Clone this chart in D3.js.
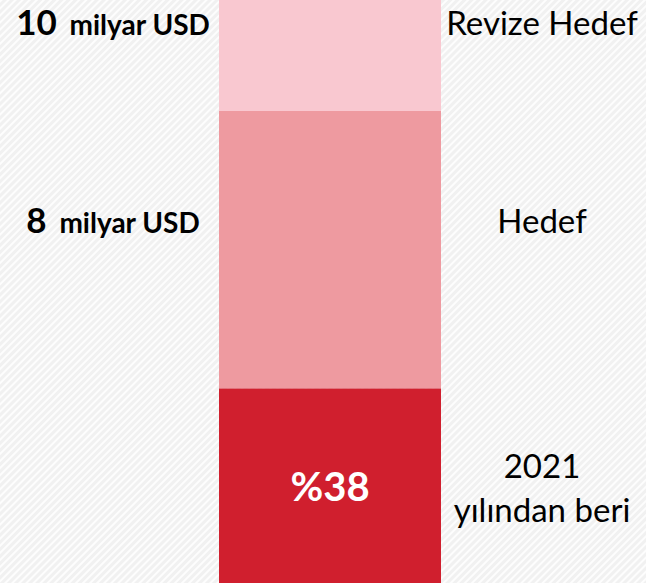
<!DOCTYPE html>
<html>
<head>
<meta charset="utf-8">
<script src="https://cdn.jsdelivr.net/npm/d3@7"></script>
<style>
  html, body { margin: 0; padding: 0; background: #fff; }
  svg { display: block; }
</style>
</head>
<body>
<svg id="fig" width="646" height="583"></svg>
<script>
// stacked segments, bottom to top (milyar USD)
const segmentNames = ['2021 yılından beri', 'Hedef', 'Revize Hedef'];
const segmentValues = [3.3, 4.7, 2];
const segmentColors = ['#d01f2e', '#ee9aa0', '#f9c8d0'];
const barShare = '%38';

// left-hand totals
const totalValues = [10, 8];
const totalUnit = 'milyar USD';

// right-hand labels (lines)
const rightLabels = [['Revize Hedef'], ['Hedef'], ['2021', 'yılından beri']];

const width = 646, height = 583;
const svg = d3.select('#fig');

// diagonal background
const defs = svg.append('defs');
const pat = defs.append('pattern')
    .attr('id', 'hatch')
    .attr('patternUnits', 'userSpaceOnUse')
    .attr('width', 5).attr('height', 5)
    .attr('patternTransform', 'rotate(45)');
pat.append('rect').attr('width', 5).attr('height', 5).attr('fill', '#f1f1f1');
pat.append('line')
    .attr('x1', 1).attr('y1', 0).attr('x2', 1).attr('y2', 5)
    .attr('stroke', '#fdfdfd').attr('stroke-width', 2);
svg.append('rect').attr('width', width).attr('height', height).attr('fill', 'url(#hatch)');

const x = d3.scaleBand().domain(['bar']).range([219, 441]).padding(0);
const y = d3.scaleLinear().domain([0, 8]).range([583, 111]);

let acc = 0;
const stacked = segmentValues.map((v, i) => {
    const d = { name: segmentNames[i], y0: acc, y1: acc + v, color: segmentColors[i] };
    acc += v;
    return d;
});

svg.append('g').selectAll('rect').data(stacked).join('rect')
    .attr('x', x('bar'))
    .attr('width', x.bandwidth())
    .attr('y', d => y(d.y1))
    .attr('height', d => y(d.y0) - y(d.y1))
    .attr('fill', d => d.color);

// share label in bottom segment
svg.append('text')
    .attr('x', x('bar') + x.bandwidth() / 2)
    .attr('y', 501)
    .attr('text-anchor', 'middle')
    .style('font-family', 'Lato, sans-serif')
    .style('font-weight', 'bold')
    .style('font-size', '40px')
    .attr('fill', '#fff')
    .text(barShare);

// left totals
const leftY = [35, 233];
const leftG = svg.append('g');
totalValues.forEach((v, i) => {
    const t = leftG.append('text')
        .attr('x', 113)
        .attr('y', leftY[i])
        .attr('text-anchor', 'middle')
        .style('font-family', 'Lato, sans-serif')
        .style('font-weight', 'bold')
        .attr('fill', '#000');
    t.append('tspan').style('font-size', '35px').text(v);
    t.append('tspan').attr('dx', 6).style('font-size', '28px').text(' ' + totalUnit);
});

// right labels
const rightY = [[35], [233], [478, 522]];
rightLabels.forEach((lines, i) => {
    lines.forEach((line, j) => {
        svg.append('text')
            .attr('x', 542)
            .attr('y', rightY[i][j])
            .attr('text-anchor', 'middle')
            .style('font-family', 'Lato, sans-serif')
            .style('font-size', '33px')
            .attr('fill', '#000')
            .text(line);
    });
});
</script>
</body>
</html>
